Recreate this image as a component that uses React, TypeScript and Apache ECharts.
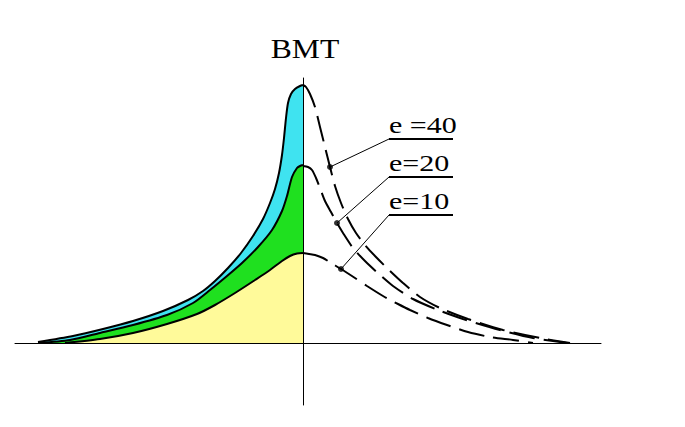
import React, { useEffect, useRef } from "react";
import * as echarts from "echarts";

// Curve names (labels)
const curveLabels = ["e =40", "e=20", "e=10"];
const axisTitle = "BMT";

// Left (solid, filled) branches: [x, y], x = distance from BMT, y = height
const leftE40 = [
  [-265, 1], [-230, 7], [-200, 14], [-170, 22], [-140, 32], [-115, 43],
  [-100, 52], [-88, 62], [-75, 75], [-62, 90], [-50, 107], [-40, 124],
  [-33, 140], [-28, 154], [-24, 170], [-21, 188], [-19, 205], [-17, 225],
  [-15, 240], [-12, 249], [-8, 254], [-3, 257], [0, 258],
];
const leftE20 = [
  [-265, 0], [-233, 3], [-203, 10], [-170, 18], [-136, 28], [-110, 40],
  [-93, 53], [-76, 67], [-61, 80], [-45, 96], [-31, 113], [-21, 132],
  [-16, 147], [-11, 166], [-6, 175], [-3, 177], [0, 178],
];
const leftE10 = [
  [-238, 0], [-203, 4], [-170, 10], [-136, 19], [-106, 29], [-88, 38],
  [-68, 50], [-48, 63], [-33, 73], [-21, 82], [-13, 87], [-6, 89.5], [0, 90],
];

// Right (dashed) branches
const rightE40 = [
  [0, 258], [3, 256], [7, 249], [12, 236], [17, 216], [22, 196], [27, 176],
  [32, 157], [38, 140], [45, 124], [53, 110], [62, 98], [72, 87], [85, 74],
  [100, 60], [117, 46], [137, 35], [165, 24], [200, 13], [237, 5], [267, 0],
];
const rightE20 = [
  [0, 177], [5, 176], [9, 173], [13, 165], [17, 155], [22, 142], [28, 131],
  [34, 120], [40, 110], [50, 95], [62, 82], [77, 68], [90, 57], [110, 44],
  [135, 33], [160, 24], [197, 13], [230, 5], [264, 0],
];
const rightE10 = [
  [0, 90], [6, 89], [12, 88], [20, 85], [28, 80], [38, 74], [52, 65],
  [64, 57], [80, 47], [95, 39], [107, 33], [125, 25], [144, 18], [165, 11],
  [187, 6], [210, 3], [230, 0],
];

// Annotation: marker index on each dashed curve, label anchor (left end of underline)
const markerIndex = [6, 7, 5];
const labelAnchors = [[86, 204], [86, 166], [86, 128]];
const underlineEndX = 150;

const leftCurves = [leftE40, leftE20, leftE10];
const rightCurves = [rightE40, rightE20, rightE10];

const FONT = '"Liberation Serif", "Times New Roman", serif';

export default function App() {
  const ref = useRef<HTMLDivElement>(null);

  useEffect(() => {
    const chart = echarts.init(ref.current!, null, { renderer: "svg" });
    const black = "#000000";
    const fills = ["#3FE3F0", "#1FE01F", "#FFFA9A"];
    const series: any[] = [];
    const smooth = 0.25;

    leftCurves.forEach((d, i) => {
      series.push({
        type: "line",
        data: d,
        symbol: "none",
        smooth,
        z: 1,
        silent: true,
        lineStyle: { opacity: 0 },
        areaStyle: { color: fills[i], opacity: 1 },
      });
    });
    leftCurves.forEach((d) => {
      series.push({
        type: "line",
        data: d,
        symbol: "none",
        smooth,
        z: 3,
        lineStyle: { color: black, width: 2 },
      });
    });
    rightCurves.forEach((d) => {
      series.push({
        type: "line",
        data: d,
        symbol: "none",
        smooth,
        z: 3,
        lineStyle: { color: black, width: 2, type: [26, 9] },
      });
    });
    const markerPoints = rightCurves.map((d, i) => d[markerIndex[i]]);
    markerPoints.forEach((p, i) => {
      series.push({
        type: "line",
        data: [p, labelAnchors[i]],
        symbol: "none",
        z: 4,
        lineStyle: { color: black, width: 1 },
      });
      series.push({
        type: "line",
        data: [labelAnchors[i], [underlineEndX, labelAnchors[i][1]]],
        symbol: "none",
        z: 4,
        lineStyle: { color: black, width: 2 },
      });
    });
    series.push({
      type: "scatter",
      data: markerPoints,
      symbol: "circle",
      symbolSize: 6,
      z: 5,
      itemStyle: { color: black },
    });

    const axisCommon = {
      type: "value",
      axisLine: { show: true, onZero: true, lineStyle: { color: black, width: 1 } },
      axisTick: { show: false },
      axisLabel: { show: false },
      splitLine: { show: false },
      z: 10,
    };

    chart.setOption({
      animation: false,
      backgroundColor: "#ffffff",
      grid: { left: 15, right: 84, top: 78, bottom: 22 },
      xAxis: { ...axisCommon, min: -288, max: 298 },
      yAxis: { ...axisCommon, min: -62, max: 265 },
      series,
    });

    const graphic: any[] = [
      {
        type: "text",
        x: 305,
        y: 48,
        scaleX: 1.13,
        style: {
          text: axisTitle,
          fontFamily: FONT,
          fontSize: 28,
          fill: black,
          align: "center",
          verticalAlign: "middle",
        },
      },
    ];
    labelAnchors.forEach((a, i) => {
      const [px, py] = chart.convertToPixel({ gridIndex: 0 }, a) as number[];
      graphic.push({
        type: "text",
        x: px,
        y: py - 14,
        scaleX: 1.25,
        style: {
          text: curveLabels[i],
          fontFamily: FONT,
          fontSize: 24,
          fill: black,
          align: "left",
          verticalAlign: "middle",
        },
      });
    });
    chart.setOption({ graphic });

    return () => chart.dispose();
  }, []);

  return (
    <div
      ref={ref}
      style={{ position: "fixed", left: 0, top: 0, width: 685, height: 427, background: "#fff" }}
    />
  );
}
